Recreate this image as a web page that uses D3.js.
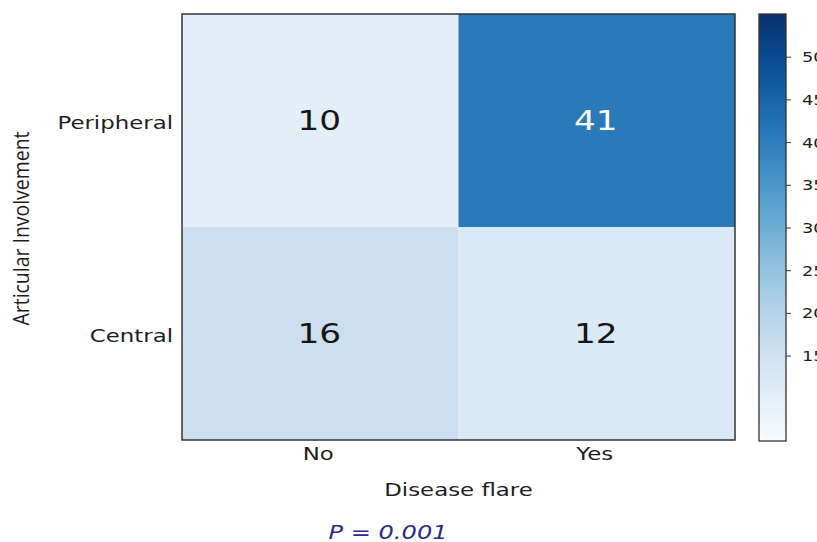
<!DOCTYPE html>
<html>
<head>
<meta charset="utf-8">
<script src="https://cdn.jsdelivr.net/npm/d3@7"></script>
<style>
  html, body { margin: 0; padding: 0; background: #fff; }
  svg { display: block; }
</style>
</head>
<body>
<svg id="chart" width="817" height="542"></svg>
<script>
// Contingency table: articular involvement vs. disease flare
const rows = ["Peripheral", "Central"];
const cols = ["No", "Yes"];
const counts = [
  [10, 41],
  [16, 12]
];
const colorDomain = [5, 55];
const colorbarTicks = [15, 20, 25, 30, 35, 40, 45, 50];
const xTitle = "Disease flare";
const yTitle = "Articular Involvement";
const pLabel = "P = 0.001";

const svg = d3.select("#chart");
const font = "DejaVu Sans, Verdana, sans-serif";
const wide = 1.27; // horizontal stretch applied to the labels

const plot = { left: 182, right: 735, top: 14, bottom: 440 };

const x = d3.scaleBand().domain(cols).range([plot.left, plot.right]);
const y = d3.scaleBand().domain(rows).range([plot.top, plot.bottom]);
const color = d3.scaleSequential(d3.interpolateBlues).domain(colorDomain);

// place a text at (px, py) with a horizontal stretch
function label(sel, px, py) {
  return sel.attr("x", 0).attr("y", 0)
    .attr("transform", (d, i) => {
      const tx = typeof px === "function" ? px(d, i) : px;
      const ty = typeof py === "function" ? py(d, i) : py;
      return `translate(${tx},${ty}) scale(${wide},1)`;
    });
}

const cells = [];
rows.forEach((r, i) => cols.forEach((c, j) => cells.push({ r, c, v: counts[i][j] })));

// heatmap cells
svg.append("g").selectAll("rect").data(cells).join("rect")
  .attr("x", d => x(d.c))
  .attr("y", d => y(d.r))
  .attr("width", x.bandwidth())
  .attr("height", y.bandwidth())
  .attr("fill", d => color(d.v));

// cell count labels
svg.append("g").selectAll("text").data(cells).join("text")
  .call(label, d => x(d.c) + x.bandwidth() / 2 - 1, d => y(d.r) + y.bandwidth() / 2 + 9)
  .attr("text-anchor", "middle")
  .attr("font-family", font)
  .attr("font-size", 27)
  .attr("fill", d => d.v > 30 ? "#ffffff" : "#151515")
  .text(d => d.v);

// frame around the plot
svg.append("rect")
  .attr("x", plot.left).attr("y", plot.top)
  .attr("width", plot.right - plot.left).attr("height", plot.bottom - plot.top)
  .attr("fill", "none").attr("stroke", "#333").attr("stroke-width", 1.5);

// category labels (no tick marks)
svg.append("g").selectAll("text").data(cols).join("text")
  .call(label, d => x(d) + x.bandwidth() / 2 - 2, plot.bottom + 20)
  .attr("text-anchor", "middle")
  .attr("font-family", font).attr("font-size", 18).attr("fill", "#1e1e1e")
  .text(d => d);

svg.append("g").selectAll("text").data(rows).join("text")
  .call(label, plot.left - 9, d => y(d) + y.bandwidth() / 2 + 8)
  .attr("text-anchor", "end")
  .attr("font-family", font).attr("font-size", 18).attr("fill", "#1e1e1e")
  .text(d => d);

// axis titles
svg.append("text")
  .call(label, (plot.left + plot.right) / 2, 496)
  .attr("text-anchor", "middle")
  .attr("font-family", font)
  .attr("font-size", 18)
  .attr("fill", "#1e1e1e")
  .text(xTitle);

svg.append("text")
  .attr("transform", `translate(29,${(132 + 325) / 2}) rotate(-90)`)
  .attr("text-anchor", "middle")
  .attr("font-family", "Liberation Sans Narrow, Open Sans, sans-serif")
  .attr("font-size", 21)
  .attr("textLength", 194)
  .attr("lengthAdjust", "spacingAndGlyphs")
  .attr("fill", "#1e1e1e")
  .text(yTitle);

// p-value annotation
svg.append("text")
  .call(label, 388, 539)
  .attr("text-anchor", "middle")
  .attr("font-family", font)
  .attr("font-style", "italic")
  .attr("font-size", 19)
  .attr("fill", "#2b2a8c")
  .text(pLabel);

// colorbar
const cb = { x: 759, w: 27, top: 14, bottom: 441 };
const cbScale = d3.scaleLinear().domain(colorDomain).range([cb.bottom, cb.top]);
const defs = svg.append("defs");
const grad = defs.append("linearGradient")
  .attr("id", "cbgrad").attr("x1", 0).attr("y1", 1).attr("x2", 0).attr("y2", 0);
d3.range(0, 1.0001, 0.05).forEach(t => {
  grad.append("stop")
    .attr("offset", t)
    .attr("stop-color", color(colorDomain[0] + t * (colorDomain[1] - colorDomain[0])));
});
svg.append("rect")
  .attr("x", cb.x).attr("y", cb.top)
  .attr("width", cb.w).attr("height", cb.bottom - cb.top)
  .attr("fill", "url(#cbgrad)")
  .attr("stroke", "#333").attr("stroke-width", 1.3);

const cbAxis = svg.append("g")
  .attr("transform", `translate(${cb.x + cb.w},0)`)
  .call(d3.axisRight(cbScale).tickValues(colorbarTicks).tickSize(5).tickPadding(10));
cbAxis.select(".domain").remove();
cbAxis.selectAll("line").attr("stroke", "#333");
cbAxis.selectAll("text")
  .attr("x", 0).attr("dy", null)
  .attr("transform", "translate(16,5) scale(1.27,1)")
  .attr("font-family", font).attr("font-size", 14).attr("fill", "#1e1e1e");
</script>
</body>
</html>
